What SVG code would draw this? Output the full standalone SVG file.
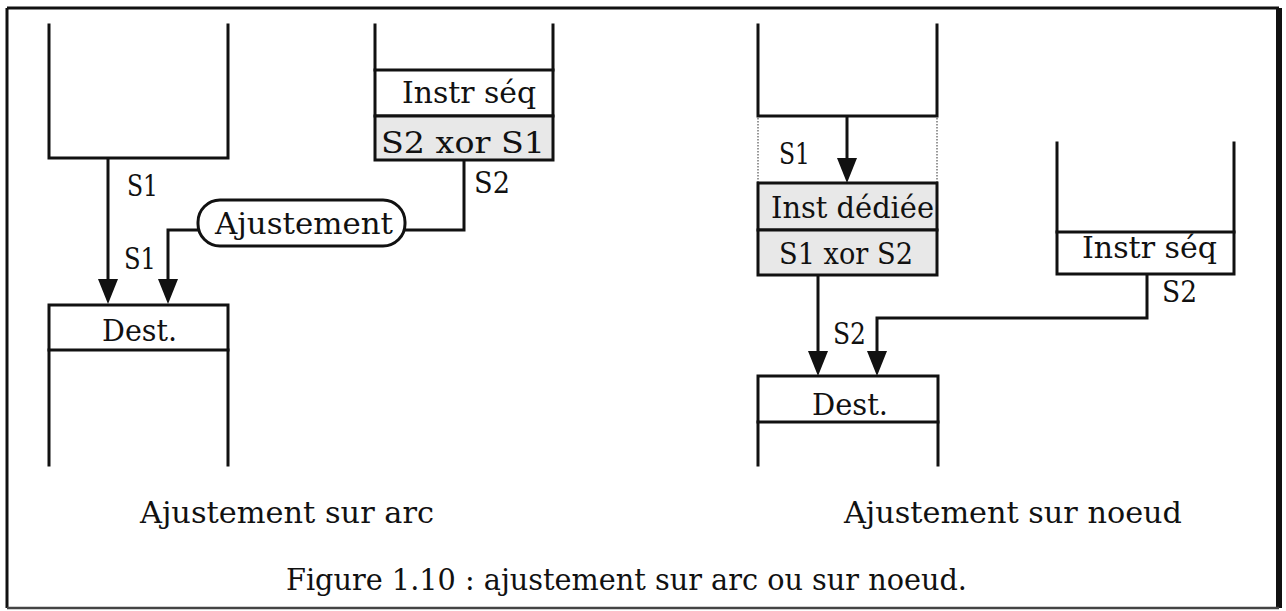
<svg xmlns="http://www.w3.org/2000/svg" width="1286" height="611" viewBox="0 0 1286 611">
<defs>
<style>
.ln{fill:none;stroke:#111;stroke-width:3;stroke-linecap:square}
.sh{fill:#e8e8e8;stroke:#111;stroke-width:3}
.wb{fill:#fff;stroke:#111;stroke-width:3}
.dot{fill:none;stroke:#777;stroke-width:1.5;stroke-dasharray:1.5 1.5}
.cn{fill:none;stroke:#111;stroke-width:3}
.ah{fill:#111}
text{font-family:"DejaVu Serif","Liberation Serif",serif;font-size:29px;fill:#111}
</style>
</defs>
<rect width="1286" height="611" fill="#fff"/>
<g id="frame">
<path d="M7,8 H1279" stroke="#111" stroke-width="3" fill="none"/>
<path d="M7,8 V608" stroke="#111" stroke-width="3" fill="none"/>
<path d="M1279,8 V608" stroke="#111" stroke-width="6" fill="none"/>
<path d="M7,608 H1279" stroke="#444" stroke-width="2.5" fill="none"/>
</g>
<g id="src-left">
<path class="ln" d="M49,25 V158 H228 V25"/>
</g>
<g id="dest-left">
<path class="ln" d="M49,465 V305 H228 V465"/>
<path class="ln" d="M49,350 H228"/>
<text x="102" y="341" textLength="75" lengthAdjust="spacingAndGlyphs">Dest.</text>
</g>
<g id="src-mid">
<path class="ln" d="M375,25 V70 M553,25 V70"/>
<rect class="wb" x="375" y="70" width="178" height="46"/>
<rect class="sh" x="375" y="116" width="178" height="44"/>
<text x="402" y="103" textLength="134" lengthAdjust="spacingAndGlyphs">Instr séq</text>
<text x="381" y="153" textLength="164" lengthAdjust="spacingAndGlyphs">S2 xor S1</text>
</g>
<g id="ajustement">
<rect class="wb" x="198" y="200" width="207" height="46" rx="22" ry="22"/>
<text x="215" y="234" textLength="178" lengthAdjust="spacingAndGlyphs">Ajustement</text>
</g>
<g id="src-right1">
<path class="ln" d="M758,25 V116 H937 V25"/>
<path class="dot" d="M758,118 V182 M937,118 V182"/>
</g>
<g id="inst-dediee">
<rect class="sh" x="758" y="183" width="179" height="47"/>
<rect class="sh" x="758" y="230" width="179" height="45"/>
<text x="771" y="218" textLength="163" lengthAdjust="spacingAndGlyphs">Inst dédiée</text>
<text x="779" y="264" textLength="134" lengthAdjust="spacingAndGlyphs">S1 xor S2</text>
</g>
<g id="src-right2">
<path class="ln" d="M1057,143 V232 M1234,143 V232"/>
<rect class="wb" x="1057" y="232" width="177" height="42"/>
<text x="1082" y="258" textLength="135" lengthAdjust="spacingAndGlyphs">Instr séq</text>
</g>
<g id="dest-right">
<path class="ln" d="M758,465 V376 H938 V465"/>
<path class="ln" d="M758,422 H938"/>
<text x="812" y="415" textLength="76" lengthAdjust="spacingAndGlyphs">Dest.</text>
</g>
<g id="connectors">
<path class="cn" d="M108,158 V279"/>
<path class="ah" d="M98,279 H118 L108,304 Z"/>
<path class="cn" d="M198,230 H168 V279"/>
<path class="ah" d="M158,279 H178 L168,304 Z"/>
<path class="cn" d="M464,160 V230 H405"/>
<path class="cn" d="M847,116 V158"/>
<path class="ah" d="M837,158 H857 L847,183 Z"/>
<path class="cn" d="M818,275 V351"/>
<path class="ah" d="M808,351 H828 L818,376 Z"/>
<path class="cn" d="M1147,274 V318 H877 V351"/>
<path class="ah" d="M867,351 H887 L877,376 Z"/>
</g>
<g id="labels">
<text x="127" y="196" textLength="31" lengthAdjust="spacingAndGlyphs">S1</text>
<text x="124" y="269" textLength="32" lengthAdjust="spacingAndGlyphs">S1</text>
<text x="474" y="193" textLength="36" lengthAdjust="spacingAndGlyphs">S2</text>
<text x="779" y="164" textLength="31" lengthAdjust="spacingAndGlyphs">S1</text>
<text x="833" y="344" textLength="33" lengthAdjust="spacingAndGlyphs">S2</text>
<text x="1162" y="302" textLength="35" lengthAdjust="spacingAndGlyphs">S2</text>
<text x="140" y="523" textLength="294" lengthAdjust="spacingAndGlyphs">Ajustement sur arc</text>
<text x="844" y="523" textLength="338" lengthAdjust="spacingAndGlyphs">Ajustement sur noeud</text>
<text x="286" y="590" textLength="681" lengthAdjust="spacingAndGlyphs">Figure 1.10 : ajustement sur arc ou sur noeud.</text>
</g>
</svg>
